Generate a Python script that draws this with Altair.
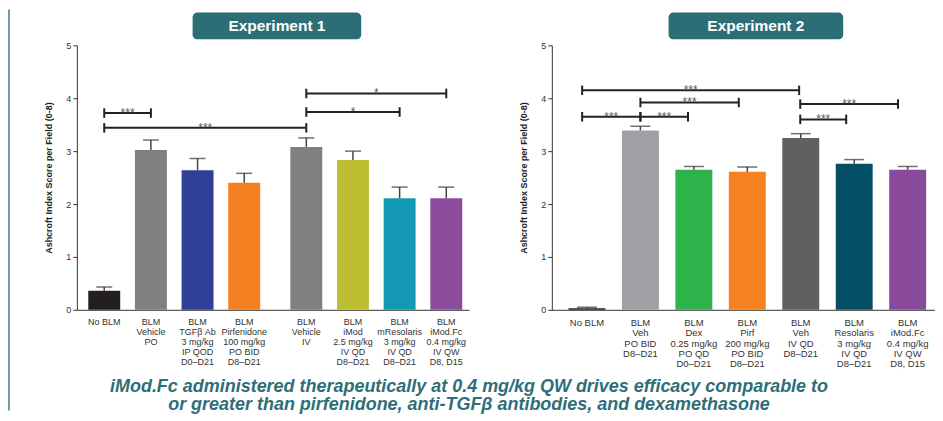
import altair as alt
import pandas as pd

FONT = "Liberation Sans"
YTITLE = "Ashcroft Index Score per Field (0-8)"

# ---------------- Experiment 1 ----------------
left_labels = ["No BLM", "BLM\nVehicle\nPO", "BLM\nTGFβ Ab\n3 mg/kg\nIP QOD\nD0–D21",
               "BLM\nPirfenidone\n100 mg/kg\nPO BID\nD8–D21", "BLM\nVehicle\nIV",
               "BLM\niMod\n2.5 mg/kg\nIV QD\nD8–D21", "BLM\nmResolaris\n3 mg/kg\nIV QD\nD8–D21",
               "BLM\niMod.Fc\n0.4 mg/kg\nIV QW\nD8, D15"]
left_pos = [0, 1, 2, 3, 4.33, 5.33, 6.33, 7.33]
left_mean = [0.36, 3.02, 2.64, 2.40, 3.08, 2.83, 2.11, 2.11]
left_err = [0.43, 3.21, 2.86, 2.58, 3.25, 3.00, 2.32, 2.32]
left_colors = ["#231F20", "#808080", "#2E3F98", "#F47F20", "#808080", "#BDBE32", "#1499B5", "#8B4C9D"]
left_sig_x1 = [0, 0, 4.33, 4.33]
left_sig_x2 = [1, 4.33, 6.33, 7.33]
left_sig_y = [3.72, 3.44, 3.74, 4.09]
left_sig_txt = ["***", "***", "*", "*"]

# ---------------- Experiment 2 ----------------
right_labels = ["No BLM", "BLM\nVeh\nPO BID\nD8–D21", "BLM\nDex\n0.25 mg/kg\nPO QD\nD0–D21",
                "BLM\nPirf\n200 mg/kg\nPO BID\nD8–D21", "BLM\nVeh\nIV QD\nD8–D21",
                "BLM\nResolaris\n3 mg/kg\nIV QD\nD8–D21", "BLM\niMod.Fc\n0.4 mg/kg\nIV QW\nD8, D15"]
right_pos = [0, 1, 2, 3, 4, 5, 6]
right_mean = [0.03, 3.39, 2.65, 2.61, 3.25, 2.76, 2.65]
right_err = [0.05, 3.47, 2.71, 2.70, 3.33, 2.84, 2.71]
right_colors = ["#231F20", "#A09FA3", "#2DB34A", "#F58220", "#606060", "#044F63", "#8A4A9C"]
right_sig_x1 = [-0.09, 1.0, -0.09, 1.0, 3.99, 3.99]
right_sig_x2 = [3.97, 2.84, 1.0, 1.89, 5.82, 4.85]
right_sig_y = [4.15, 3.92, 3.65, 3.65, 3.89, 3.60]
right_sig_txt = ["***"] * 6

bottom_text = ("iMod.Fc administered therapeutically at 0.4 mg/kg QW drives efficacy comparable to\n"
               "or greater than pirfenidone, anti-TGF\u03b2 antibodies, and dexamethasone")

TEAL = "#2B6E76"


def panel(labels, pos, mean, err, colors, sx1, sx2, sy, stxt, title, width, domain,
          bar_w, cap_w, lab_size, lab_lh, box, extra=None):
    bars = pd.DataFrame({"label": labels, "pos": pos, "mean": mean, "err": err, "color": colors})
    sig = pd.DataFrame({"x1": sx1, "x2": sx2, "y": sy, "txt": stxt})
    sig["xm"] = (sig["x1"] + sig["x2"]) / 2
    sig["ylo"] = sig["y"] - 0.09
    sig["yhi"] = sig["y"] + 0.09

    xs = alt.Scale(domain=domain, nice=False, zero=False)
    ys = alt.Scale(domain=[0, 5], nice=False)

    def X(f):
        return alt.X(f + ":Q", scale=xs, title=None,
                     axis=alt.Axis(labels=False, ticks=False, grid=False, domainColor="#333",
                                   domainWidth=1))

    def Y(f):
        return alt.Y(f + ":Q", scale=ys, title=YTITLE,
                     axis=alt.Axis(values=[0, 1, 2, 3, 4, 5], grid=False, tickSize=4,
                                   tickColor="#333", domainColor="#333", labelColor="#333",
                                   labelFontSize=9, labelPadding=2, labelFont=FONT,
                                   titleFont=FONT, titleFontSize=9, titleFontWeight="bold",
                                   titleColor="#222", titlePadding=12))

    base = alt.Chart(bars)
    bar = base.mark_bar(size=bar_w).encode(x=X("pos"), y=Y("mean"),
                                           color=alt.Color("color:N", scale=None))
    stem = base.mark_rule(color="#444", strokeWidth=1.5).encode(x=X("pos"), y=Y("mean"), y2="err:Q")
    cap = base.mark_tick(orient="horizontal", size=cap_w, thickness=1.5, color="#333").encode(
        x=X("pos"), y=Y("err"))
    lab = base.mark_text(baseline="top", align="center", lineBreak="\n", fontSize=lab_size,
                         lineHeight=lab_lh, font=FONT, color="#333").encode(
        x=X("pos"), y=alt.value(273), text="label:N")

    sc = alt.Chart(sig)
    hline = sc.mark_rule(color="#222", strokeWidth=2).encode(x=X("x1"), x2="x2:Q", y=Y("y"))
    lend = sc.mark_rule(color="#222", strokeWidth=2).encode(x=X("x1"), y=Y("ylo"), y2="yhi:Q")
    rend = sc.mark_rule(color="#222", strokeWidth=2).encode(x=X("x2"), y=Y("ylo"), y2="yhi:Q")
    stars = sc.mark_text(baseline="alphabetic", dy=4, fontSize=12, font=FONT, color="#5a5a5a").encode(
        x=X("xm"), y=Y("y"), text="txt:N")

    tdf = pd.DataFrame({"t": [title]})
    rect = alt.Chart(tdf).mark_rect(color=TEAL, cornerRadius=5).encode(
        x=alt.value(box[0]), x2=alt.value(box[1]), y=alt.value(-33), y2=alt.value(-6))
    ttxt = alt.Chart(tdf).mark_text(color="white", fontSize=15.5, fontWeight="bold", font=FONT,
                                    baseline="middle", align="center").encode(
        x=alt.value((box[0] + box[1]) / 2), y=alt.value(-19), text="t:N")

    layers = [bar, stem, cap, lab, hline, lend, rend, stars, rect, ttxt]
    if extra:
        layers += extra
    return alt.layer(*layers).properties(width=width, height=265)


dummy = pd.DataFrame({"t": [bottom_text]})
border = alt.Chart(dummy).mark_rule(color="#6A9FA8", strokeWidth=2).encode(
    x=alt.value(-68), y=alt.value(-36), y2=alt.value(366))
btxt = alt.Chart(dummy).mark_text(lineBreak="\n", fontSize=18, fontStyle="italic", fontWeight="bold",
                                  font=FONT, color="#2E6E78", lineHeight=18.5, baseline="alphabetic",
                                  align="center").encode(
    x=alt.value(393), y=alt.value(347), text="t:N")

left = panel(left_labels, left_pos, left_mean, left_err, left_colors,
             left_sig_x1, left_sig_x2, left_sig_y, left_sig_txt, "Experiment 1",
             393, [-0.48, 7.71], 32, 16, 9, 10, (116, 285))
left = alt.layer(left, border, btxt)
right = panel(right_labels, right_pos, right_mean, right_err, right_colors,
              right_sig_x1, right_sig_x2, right_sig_y, right_sig_txt, "Experiment 2",
              384, [-0.564, 6.418], 37, 20, 9.5, 10.4, (117, 292))

chart = alt.hconcat(left, right, spacing=83, bounds="flush").properties(
    padding={"left": 0, "right": 0, "top": 0, "bottom": 0}
).configure_view(stroke=None)

chart.save("out.html", embed_options={"renderer": "svg", "actions": False})
